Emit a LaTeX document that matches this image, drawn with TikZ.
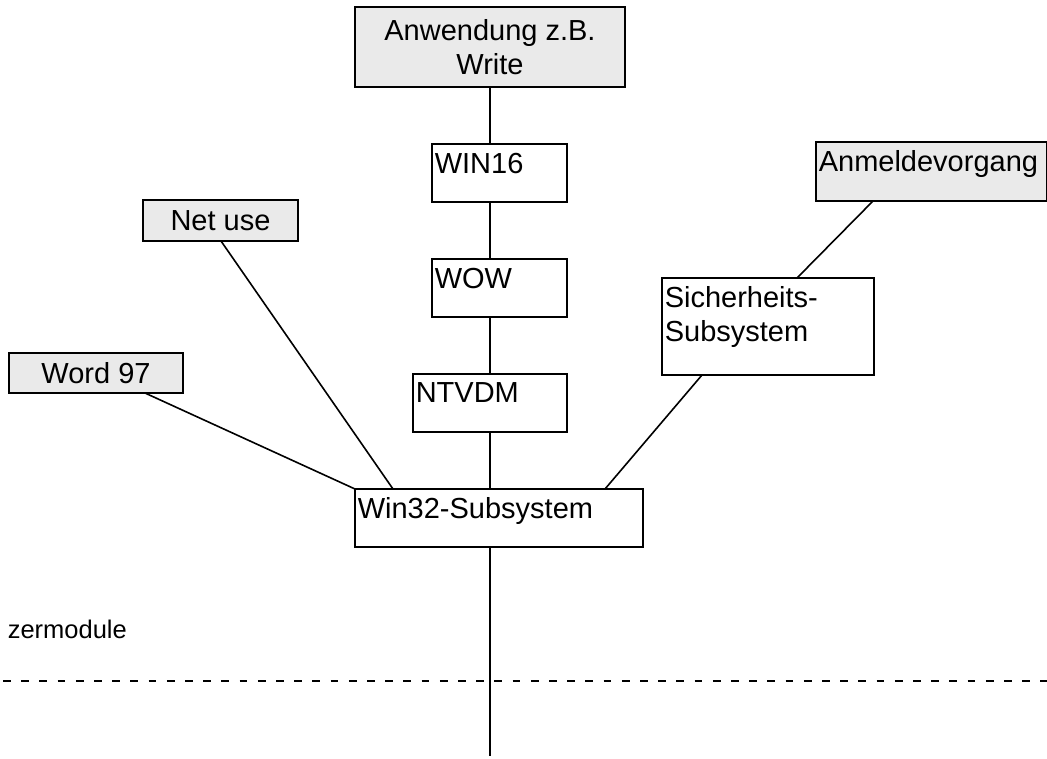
\documentclass[tikz,border=0pt]{standalone}
\usepackage{fontspec}
\setmainfont{Liberation Sans}
\usepackage{tikz}
\definecolor{boxgray}{RGB}{234,234,234}

\begin{document}
\begin{tikzpicture}[x=1pt, y=-1pt, line width=1.6pt,
		every node/.style={font=\fontsize{29}{34}\selectfont},
		box/.style={draw, rectangle, inner sep=0pt, outer sep=0pt, anchor=north west, align=center},
		shaded/.style={box, fill=boxgray},
		inlabel/.style={label={[anchor=north west, inner xsep=2pt, inner ysep=8pt, align=left]north west:#1}}]
		\useasboundingbox (0,0) rectangle (1047,758);

		\node[shaded, minimum width=270pt, minimum height=80pt] at (355,7) (app) {Anwendung z.B.\\Write};
		\node[box, minimum width=135pt, minimum height=58pt, inlabel=WIN16] at (432,144) (win16) {};
		\node[box, minimum width=135pt, minimum height=58pt, inlabel=WOW] at (432,259) (wow) {};
		\node[box, minimum width=154pt, minimum height=58pt, inlabel=NTVDM] at (413,374) (ntvdm) {};
		\node[box, minimum width=288pt, minimum height=58pt, inlabel=Win32-Subsystem] at (355,489) (win32) {};

		\node[shaded, minimum width=174pt, minimum height=40pt] at (9,353) (word) {Word 97};
		\node[shaded, minimum width=155pt, minimum height=41pt] at (143,200) (netuse) {Net use};
		\node[shaded, minimum width=231pt, minimum height=59pt, inlabel=Anmeldevorgang] at (816,142) (anmeldung) {};
		\node[box, minimum width=212pt, minimum height=97pt, inlabel={Sicherheits-\\Subsystem}] at (662,278) (security) {};

		\node[anchor=base west, inner sep=0pt, font=\fontsize{25.5}{30}\selectfont] at (7,638) (module) {zermodule};
		\coordinate (bottom) at (app.south |- 0,756);

		\draw (app.south) -- (app.south |- win16.north);
		\draw (app.south |- win16.south) -- (app.south |- wow.north);
		\draw (app.south |- wow.south) -- (app.south |- ntvdm.north);
		\draw (app.south |- ntvdm.south) -- (app.south |- win32.north);
		\draw (app.south |- win32.south) -- (bottom);

		\draw ([xshift=136pt]word.south west) -- (win32.north west);
		\draw ([xshift=78pt]netuse.south west) -- ([xshift=38pt]win32.north west);
		\draw ([xshift=40pt]security.south west) -- ([xshift=250pt]win32.north west);
		\draw ([xshift=57pt]anmeldung.south west) -- ([xshift=135pt]security.north west);

		\draw[line width=2.2pt, dash pattern=on 7.8pt off 10.4pt] (3,681) -- (1047,681);
	\end{tikzpicture}
\end{document}
